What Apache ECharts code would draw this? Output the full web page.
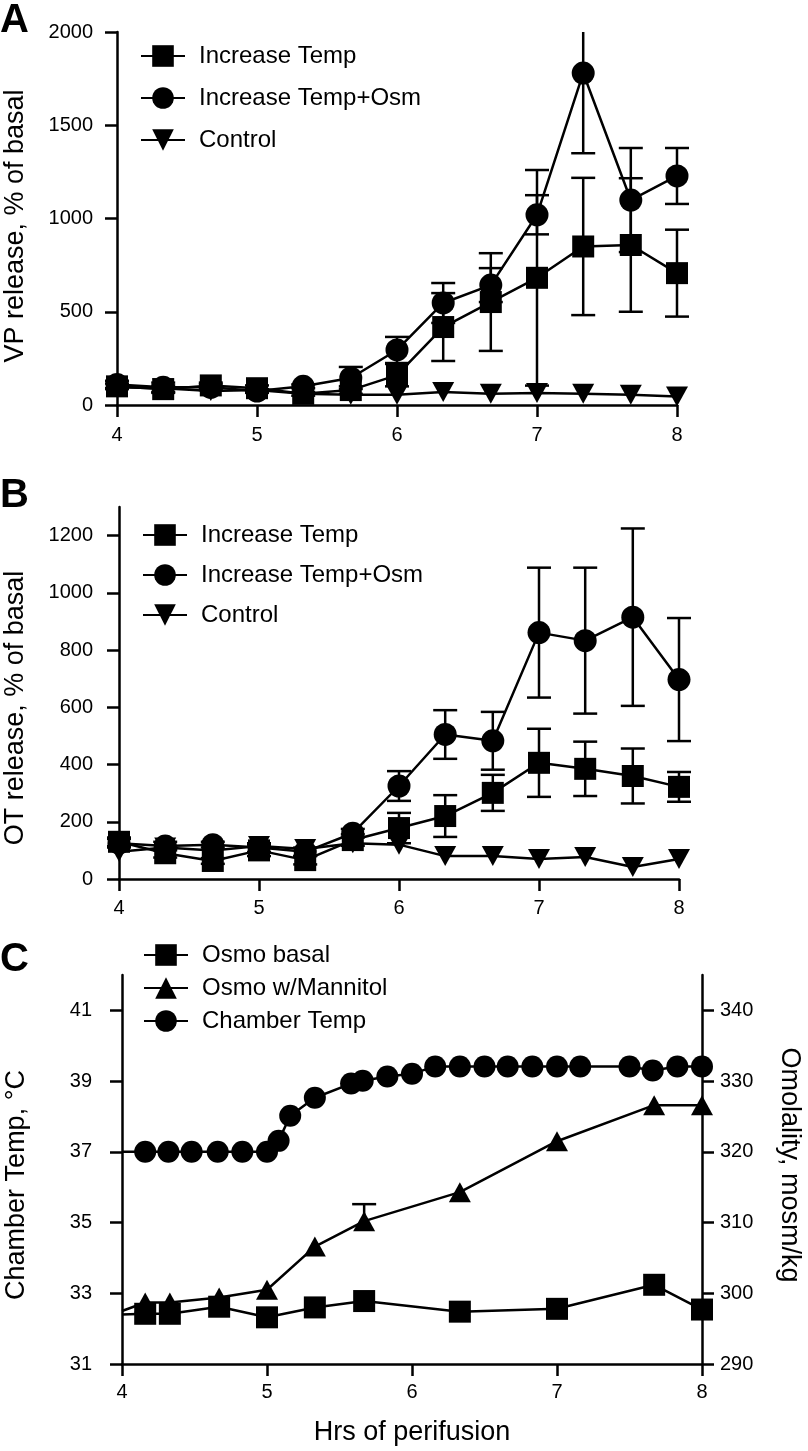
<!DOCTYPE html>
<html><head><meta charset="utf-8">
<script src="https://cdn.jsdelivr.net/npm/echarts@6/dist/echarts.min.js"></script>
<style>html,body{margin:0;padding:0;background:#fff}#c{width:808px;height:1451px}</style>
</head><body><div id="c"></div>
<script>
// ---------- Data ----------
const hours = [4, 4.33, 4.67, 5, 5.33, 5.67, 6, 6.33, 6.67, 7, 7.33, 7.67, 8];
const xTicks = [4, 5, 6, 7, 8];

// Panel A: VP release, % of basal
const vpTemp      = [100, 85, 105, 90, 60, 80, 160, 418, 552, 682, 850, 858, 707];
const vpTempSem   = [15, 20, 15, 15, 10, 20, 60, 182, 262, 578, 368, 358, 233];
const vpTempOsm   = [110, 95, 95, 75, 100, 145, 295, 547, 643, 1020, 1780, 1099, 1228];
const vpTempOsmSem= [20, 25, 15, 10, 10, 59, 70, 107, 91, 105, 430, 279, 150];
const vpControl   = [95, 90, 75, 80, 60, 55, 55, 70, 60, 65, 60, 55, 45];
const vpTicks = [0, 500, 1000, 1500, 2000];

// Panel B: OT release, % of basal
const otTemp      = [130, 90, 63, 100, 66, 136, 178, 220, 301, 406, 385, 360, 322];
const otTempSem   = [15, 15, 10, 20, 15, 20, 53, 73, 63, 119, 95, 96, 52];
const otTempOsm   = [125, 115, 120, 110, 95, 160, 325, 505, 483, 861, 833, 915, 697];
const otTempOsmSem= [15, 15, 10, 15, 15, 15, 52, 85, 101, 227, 255, 310, 215];
const otControl   = [95, 110, 100, 115, 105, 125, 120, 80, 80, 70, 77, 42, 70];
const otTicks = [0, 200, 400, 600, 800, 1000, 1200];

// Panel C
const tempHours = [4, 4.16, 4.32, 4.48, 4.66, 4.83, 5.0, 5.08, 5.16, 5.33, 5.58, 5.66, 5.83, 6.0,
                   6.16, 6.33, 6.5, 6.66, 6.83, 7.0, 7.16, 7.5, 7.66, 7.83, 8.0];
const chamberTemp = [37.0, 37.0, 37.0, 37.0, 37.0, 37.0, 37.0, 37.31, 38.02, 38.53, 38.93, 39.01, 39.13, 39.21,
                     39.41, 39.41, 39.41, 39.41, 39.41, 39.41, 39.41, 39.41, 39.30, 39.41, 39.41];
const osmoHours = [4, 4.16, 4.33, 4.67, 5.0, 5.33, 5.67, 6.33, 7.0, 7.67, 8.0];
const osmoBasal = [297.0, 297.1, 297.1, 298.1, 296.6, 298.0, 298.9, 297.4, 297.8, 301.2, 297.7];
const osmoMannitol       = [297.5, 298.7, 298.7, 299.4, 300.5, 306.6, 310.2, 314.3, 321.5, 326.6, 326.6];
const osmoMannitolSemUp  = [0, 0, 0, 0, 0, 0, 2.4, 0, 0, 0, 0];
const osmoMannitolSemLow = [0, 0, 0, 0, 0, 0, 0, 0, 0, 0, 0];
const tempTicks = [31, 33, 35, 37, 39, 41];
const osmTicks = [290, 300, 310, 320, 330, 340];

// ---------- Styles ----------
const FONT = "'Liberation Sans', Arial, Helvetica, sans-serif";
const LW = 2.5;
const SQ = 'rect';
const CI = 'circle';
const TD = 'path://M0,0 L20,0 L10,18 Z';
const TU = 'path://M10,0 L20,18 L0,18 Z';

function lineSeries(name, xs, ys, symbol, size, xi, yi, startAtAxis) {
  return {
    name, type: 'line', xAxisIndex: xi, yAxisIndex: yi, z: 3,
    symbol, symbolSize: size, showSymbol: true,
    lineStyle: { color: '#000', width: LW },
    itemStyle: { color: '#000' },
    data: xs.map((x, i) => (startAtAxis && i === 0) ? { value: [x, ys[i]], symbol: 'none' } : [x, ys[i]])
  };
}
function errSeries(xs, means, semUp, semLow, xi, yi, yMax) {
  return {
    type: 'custom', xAxisIndex: xi, yAxisIndex: yi, z: 2, silent: true, clip: false,
    data: xs.map((x, i) => [x, means[i] - semLow[i], means[i] + semUp[i], semLow[i] > 0 ? 1 : 0, semUp[i] > 0 ? 1 : 0])
            .filter((d, i) => semUp[i] > 0 || semLow[i] > 0),
    renderItem: function (params, api) {
      const x = api.value(0), lo = api.value(1), hi = api.value(2);
      const capLo = api.value(3), capHi = api.value(4);
      const hiC = Math.min(hi, yMax);
      const pLo = api.coord([x, lo]), pHi = api.coord([x, hiC]);
      const hw = 12;
      const st = { stroke: '#000', lineWidth: LW };
      const ch = [
        { type: 'line', shape: { x1: pLo[0], y1: pLo[1], x2: pHi[0], y2: pHi[1] }, style: st }
      ];
      if (capLo) ch.push({ type: 'line', shape: { x1: pLo[0] - hw, y1: pLo[1], x2: pLo[0] + hw, y2: pLo[1] }, style: st });
      if (capHi && hi <= yMax) ch.push({ type: 'line', shape: { x1: pHi[0] - hw, y1: pHi[1], x2: pHi[0] + hw, y2: pHi[1] }, style: st });
      return { type: 'group', children: ch };
    }
  };
}
function xAxis(gi, margin) {
  return {
    type: 'value', gridIndex: gi, min: 4, max: 8, interval: 1,
    axisLine: { show: true, onZero: false, lineStyle: { color: '#000', width: LW } },
    axisTick: { show: true, length: 12, lineStyle: { color: '#000', width: LW }, customValues: xTicks },
    axisLabel: { color: '#000', fontSize: 20, fontFamily: FONT, margin: margin, customValues: xTicks, formatter: v => String(v) },
    splitLine: { show: false }
  };
}
function yAxis(gi, min, max, ticks, margin, pos) {
  return {
    type: 'value', gridIndex: gi, min, max, position: pos || 'left',
    axisLine: { show: true, onZero: false, lineStyle: { color: '#000', width: LW } },
    axisTick: { show: true, length: 12, lineStyle: { color: '#000', width: LW }, customValues: ticks },
    axisLabel: { color: '#000', fontSize: 20, fontFamily: FONT, margin: margin, customValues: ticks, formatter: v => String(v) },
    splitLine: { show: false }
  };
}
function legend(left, top, gap, names) {
  return {
    orient: 'vertical', left, top, padding: 0, itemGap: gap, itemWidth: 44, itemHeight: 27,
    selectedMode: false, data: names,
    textStyle: { color: '#000', fontSize: 24, fontFamily: FONT, padding: [0, 0, 0, 9] }
  };
}
function txt(text, x, y, size, rot, bold) {
  return {
    type: 'text', x, y, rotation: rot || 0,
    style: { text, fill: '#000', font: (bold ? 'bold ' : '') + size + 'px ' + FONT, textAlign: rot ? 'center' : 'left', textVerticalAlign: 'middle' }
  };
}

const option = {
  animation: false,
  backgroundColor: '#fff',
  grid: [
    { left: 117, top: 32, width: 560, height: 373 },
    { left: 119, top: 507, width: 560, height: 372 },
    { left: 122, top: 975, width: 580, height: 389 }
  ],
  xAxis: [xAxis(0, 20), xAxis(1, 19), xAxis(2, 18)],
  yAxis: [
    yAxis(0, 0, 2000, vpTicks, 24),
    yAxis(1, 0, 1300, otTicks, 26),
    yAxis(2, 31, 42, tempTicks, 30),
    yAxis(2, 290, 345, osmTicks, 18, 'right')
  ],
  legend: [
    legend(140, 44, 18, ['Increase Temp', 'Increase Temp+Osm', 'Control']),
    legend(142, 523, 16, ['Increase Temp', 'Increase Temp+Osm', 'Control']),
    legend(143, 943, 9, ['Osmo basal', 'Osmo w/Mannitol', 'Chamber Temp'])
  ],
  graphic: [
    txt('A', 0, 21, 40, 0, true),
    txt('B', 0, 496, 40, 0, true),
    txt('C', 0, 960, 40, 0, true),
    txt('VP release, % of basal', 16, 226, 27, Math.PI / 2),
    txt('OT release, % of basal', 16, 708, 27, Math.PI / 2),
    txt('Chamber Temp, \u00B0C', 17, 1185, 27, Math.PI / 2),
    txt('Omolality, mosm/kg', 789, 1165, 27, -Math.PI / 2),
    { type: 'text', x: 412, y: 1433, style: { text: 'Hrs of perifusion', fill: '#000', font: '27px ' + FONT, textAlign: 'center', textVerticalAlign: 'middle' } }
  ],
  series: [
    errSeries(hours, vpTemp, vpTempSem, vpTempSem, 0, 0, 2000),
    errSeries(hours, vpTempOsm, vpTempOsmSem, vpTempOsmSem, 0, 0, 2000),
    lineSeries('Increase Temp', hours, vpTemp, SQ, 22, 0, 0),
    lineSeries('Increase Temp+Osm', hours, vpTempOsm, CI, 23, 0, 0),
    lineSeries('Control', hours, vpControl, TD, [22, 20], 0, 0),

    errSeries(hours, otTemp, otTempSem, otTempSem, 1, 1, 1300),
    errSeries(hours, otTempOsm, otTempOsmSem, otTempOsmSem, 1, 1, 1300),
    lineSeries('Increase Temp', hours, otTemp, SQ, 22, 1, 1),
    lineSeries('Increase Temp+Osm', hours, otTempOsm, CI, 23, 1, 1),
    lineSeries('Control', hours, otControl, TD, [22, 20], 1, 1),

    errSeries(osmoHours, osmoMannitol, osmoMannitolSemUp, osmoMannitolSemLow, 2, 3, 345),
    lineSeries('Osmo basal', osmoHours, osmoBasal, SQ, 22, 2, 3, true),
    lineSeries('Osmo w/Mannitol', osmoHours, osmoMannitol, TU, [22, 20], 2, 3, true),
    lineSeries('Chamber Temp', tempHours, chamberTemp, CI, 22, 2, 2, true)
  ]
};
const chart = echarts.init(document.getElementById('c'), null, { renderer: 'canvas' });
chart.setOption(option);
</script>
</body></html>
